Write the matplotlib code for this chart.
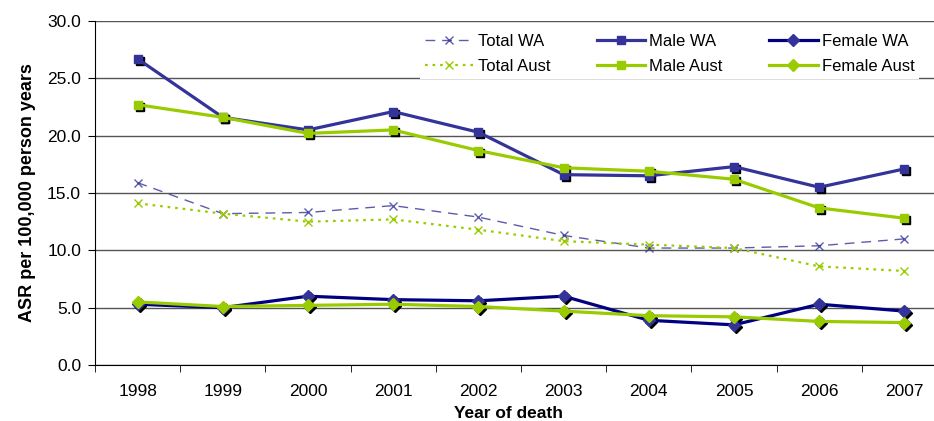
import matplotlib
matplotlib.use("Agg")
import matplotlib.pyplot as plt
import matplotlib.transforms as mtransforms

plt.rcParams['font.family'] = ['Liberation Sans', 'DejaVu Sans']

# datos
years = ['1998', '1999', '2000', '2001', '2002', '2003', '2004', '2005', '2006', '2007']
total_wa = [15.9, 13.2, 13.3, 13.9, 12.9, 11.3, 10.2, 10.2, 10.4, 11.0]
total_aust = [14.1, 13.2, 12.5, 12.7, 11.8, 10.8, 10.5, 10.2, 8.6, 8.2]
male_wa = [26.7, 21.6, 20.5, 22.1, 20.3, 16.6, 16.5, 17.3, 15.5, 17.1]
male_aust = [22.7, 21.6, 20.2, 20.5, 18.7, 17.2, 16.9, 16.2, 13.7, 12.8]
female_wa = [5.3, 5.0, 6.0, 5.7, 5.6, 6.0, 3.9, 3.5, 5.3, 4.7]
female_aust = [5.5, 5.1, 5.2, 5.3, 5.1, 4.7, 4.3, 4.2, 3.8, 3.7]

blue = '#333399'
navy = '#000080'
green = '#99CC00'

fig = plt.figure(figsize=(9.34, 4.21), dpi=100)
ax = fig.add_axes([95 / 934, 1 - 365 / 421, 852 / 934, 344 / 421])

x = list(range(len(years)))

# sombra negra de los marcadores
sombra = mtransforms.offset_copy(ax.transData, fig=fig, x=2, y=-2, units='dots')
for serie, mk, ms in [(male_wa, 's', 5.5), (male_aust, 's', 5.5),
                      (female_wa, 'D', 6.5), (female_aust, 'D', 6.5)]:
    ax.plot(x, serie, linestyle='none', marker=mk, markersize=ms, color='black',
            transform=sombra, zorder=3)

ax.plot(x, total_wa, color=blue, lw=1.0, linestyle=(0, (7, 5)), marker='x',
        markersize=6, markeredgewidth=1.0, alpha=0.8, label='Total WA', zorder=2)
ax.plot(x, total_aust, color=green, lw=1.6, linestyle=(0, (1.2, 2.2)), marker='x',
        markersize=6, markeredgewidth=1.0, label='Total Aust', zorder=2)
ax.plot(x, male_wa, color=blue, lw=2.3, marker='s', markersize=5.5,
        label='Male WA', zorder=4)
ax.plot(x, male_aust, color=green, lw=2.3, marker='s', markersize=5.5,
        label='Male Aust', zorder=4)
ax.plot(x, female_wa, color=navy, lw=2.3, marker='D', markersize=6.5,
        markerfacecolor=blue, markeredgecolor=blue, label='Female WA', zorder=4)
ax.plot(x, female_aust, color=green, lw=2.3, marker='D', markersize=6.5,
        label='Female Aust', zorder=4)

ax.set_xlim(-0.5, len(years) - 0.5)
ax.set_ylim(0, 30)
ax.set_yticks([0, 5, 10, 15, 20, 25, 30])
ax.set_yticklabels([f'{v:.1f}' for v in [0, 5, 10, 15, 20, 25, 30]], fontsize=12.5)
ax.set_xticks(x)
ax.set_xticklabels(years, fontsize=12.5)
ax.set_xticks([i - 0.5 for i in range(len(years) + 1)], minor=True)
ax.tick_params(axis='x', which='major', length=0, pad=14)
ax.tick_params(axis='x', which='minor', length=5, direction='out', color='black')
ax.tick_params(axis='y', length=5, direction='out', pad=5)

ax.grid(axis='y', color='#555555', lw=1.0)
ax.set_axisbelow(True)
for lado in ['top', 'right']:
    ax.spines[lado].set_visible(False)
ax.spines['left'].set_color('black')
ax.spines['bottom'].set_color('black')

ax.set_ylabel('ASR per 100,000 person years', fontsize=13, fontweight='bold', labelpad=8)
fig.text(508 / 934, 1 - 418 / 421, 'Year of death', fontsize=12.5, fontweight='bold',
         ha='center', va='baseline')

h, l = ax.get_legend_handles_labels()
leg = ax.legend(h, l, ncol=3, loc='upper left', bbox_to_anchor=(420 / 934, 1 - 29 / 421),
                bbox_transform=fig.transFigure, borderaxespad=0,
                fontsize=12, frameon=True, fancybox=False, edgecolor='none',
                facecolor='white', framealpha=1, handlelength=2.9, handletextpad=0.25,
                columnspacing=2.8, labelspacing=0.6, borderpad=0.3)
leg.set_zorder(1.5)

fig.savefig('out.png', dpi=100)
